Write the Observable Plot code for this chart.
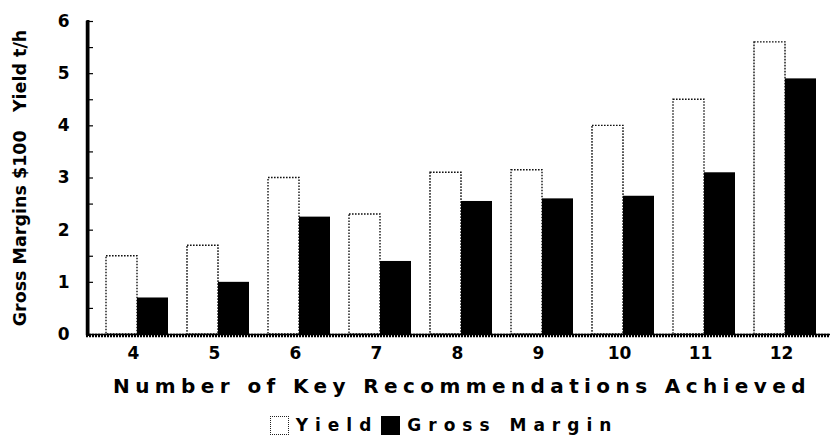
<!DOCTYPE html>
<html><head><meta charset="utf-8">
<script src="https://cdn.jsdelivr.net/npm/d3@7"></script>
<script src="https://cdn.jsdelivr.net/npm/@observablehq/plot@0.6"></script>
<style>
body{margin:0;background:#fff;font-family:"DejaVu Sans",sans-serif;color:#000;}
#chart{width:832px;}
#chart svg{display:block;overflow:visible;}
g[aria-label="ytitle"] text{letter-spacing:2.2px;}
.xtitle{width:832px;padding-left:92px;box-sizing:border-box;text-align:center;font-weight:bold;font-size:20px;letter-spacing:5.4px;line-height:22px;height:24px;}
.legend{width:832px;display:flex;justify-content:center;align-items:center;font-size:17px;font-weight:bold;letter-spacing:7px;margin-top:16px;padding-left:56px;box-sizing:border-box;}
.sw{display:inline-block;width:19px;height:19px;box-sizing:border-box;margin-right:7px;}
.sw.y{border:1.5px dotted #222;background:#fff;}
.sw.g{background:#000;margin-left:3px;}
</style></head><body>
<div id="chart"></div>
<script>
const categories = ["4","5","6","7","8","9","10","11","12"];
const yieldVals = [1.5, 1.7, 3.0, 2.3, 3.1, 3.15, 4.0, 4.5, 5.6];
const gmVals = [0.7, 1.0, 2.25, 1.4, 2.55, 2.6, 2.65, 3.1, 4.9];
const yTickVals = [0,1,2,3,4,5,6];
const yMinorTicks = [0.5,1,1.5,2,2.5,3,3.5,4,4.5,5,5.5,6];
const seriesNames = ["Yield","Gross Margin"];
const yTitle = "Gross Margins $100\u00a0\u00a0\u00a0Yield t/h";
const xTitle = "Number of Key Recommendations Achieved";

const yieldRows = categories.map((c,i)=>({cat:c, series:seriesNames[0], value:yieldVals[i]}));
const gmRows = categories.map((c,i)=>({cat:c, series:seriesNames[1], value:gmVals[i]}));

const plot = Plot.plot({
  width: 832, height: 375,
  marginLeft: 86, marginRight: 2, marginTop: 21, marginBottom: 41,
  style: {fontFamily: "DejaVu Sans", fontSize: "17px", background: "#fff", color: "#000", overflow: "visible"},
  x: {domain: categories, paddingInner: 0.235, paddingOuter: 0.205, align: 0.6, axis: null},
  y: {domain: [0, 6], axis: null},
  marks: [
    Plot.barY(yieldRows, {x: "cat", y: "value", fill: "white", stroke: "#111", strokeWidth: 1.4, strokeDasharray: "1.6,1.4", insetRight: 31}),
    Plot.barY(gmRows, {x: "cat", y: "value", fill: "black", insetLeft: 31}),
    Plot.tickY(yMinorTicks, {y: d => d, stroke: "#000", strokeWidth: 1.2, insetRight: 737}),
    Plot.ruleY([0], {stroke: "#000", strokeWidth: 1.5}),
    Plot.ruleY([0], {stroke: "#000", strokeWidth: 3.5, strokeDasharray: "2,1", dy: 1}),
    Plot.frame({anchor: "left", stroke: "#000", strokeWidth: 1.5}),
    Plot.frame({anchor: "left", stroke: "#000", strokeWidth: 3, strokeDasharray: "1.5,1", dx: 1.5}),
    Plot.axisY({ticks: yTickVals, tickSize: 0, tickPadding: 17, fontWeight: "bold", fontSize: 17, label: null, tickFormat: d => String(d)}),
    Plot.axisX({tickSize: 0, tickPadding: 12, fontWeight: "bold", fontSize: 17, label: null, dx: -4}),
    Plot.text([yTitle], {text: d => d, frameAnchor: "left", textAnchor: "middle", rotate: -90, dx: -66, fontSize: 17.5, fontWeight: "bold", ariaLabel: "ytitle"})
  ]
});
const root = document.getElementById("chart");
root.appendChild(plot);
const xt = document.createElement("div");
xt.className = "xtitle";
xt.textContent = xTitle;
root.appendChild(xt);
const lg = document.createElement("div");
lg.className = "legend";
lg.innerHTML = `<span class="sw y"></span><span>${seriesNames[0]}</span><span class="sw g"></span><span>${seriesNames[1]}</span>`;
root.appendChild(lg);
</script>
</body></html>
